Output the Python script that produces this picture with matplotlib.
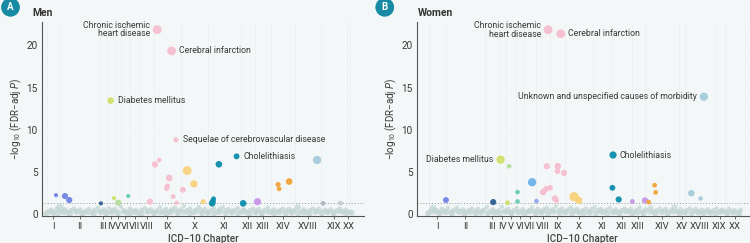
import matplotlib
matplotlib.use("Agg")
import matplotlib.pyplot as plt

plt.rcParams['font.family'] = ['Roboto', 'DejaVu Sans']
plt.rcParams['mathtext.fontset'] = 'custom'
plt.rcParams['mathtext.rm'] = 'Roboto'
plt.rcParams['mathtext.it'] = 'Roboto:italic'

# chapters and number of diagnoses per chapter (x axis = diagnosis index)
men_chapters = ['I', 'II', 'III', 'IV', 'V', 'VI', 'VII', 'VIII', 'IX', 'X', 'XI',
                'XII', 'XIII', 'XIV', 'XVIII', 'XIX', 'XX']
men_counts = [13, 40, 7, 8, 6, 9, 10, 14, 27, 27, 33, 14, 16, 24, 26, 26, 3]
men_start = 5
men_xmax = 322

women_chapters = ['I', 'II', 'III', 'IV', 'V', 'VI', 'VII', 'VIII', 'IX', 'X', 'XI',
                  'XII', 'XIII', 'XIV', 'XV', 'XVIII', 'XIX', 'XX']
women_counts = [17, 39, 14, 7, 10, 8, 12, 14, 15, 28, 19, 20, 13, 34, 6, 30, 10, 20]
women_start = 12
women_xmax = 332

# significant diagnoses: (chapter, index, -log10 p, relative size)
men_sig = [
    ('I', 14, 2.27, 1), ('I', 23, 2.16, 2.2), ('I', 27.3, 1.69, 2.2),
    ('III', 59, 1.3, 1), ('IV', 72, 1.92, 1), ('IV', 68.7, 13.45, 2.5),
    ('V', 76.3, 1.37, 2.2), ('VI', 86.3, 2.16, 1),
    ('IX', 108, 1.5, 2.2), ('IX', 113, 5.9, 2.2), ('IX', 117.3, 6.43, 1.2),
    ('IX', 115.3, 21.85, 4.5), ('IX', 129.7, 19.33, 4.5), ('IX', 127.3, 4.3, 2.6),
    ('IX', 124.7, 3.06, 1.5), ('IX', 125.5, 3.35, 1.5), ('IX', 131.3, 2.1, 1.3),
    ('IX', 134, 8.82, 1.5), ('IX', 134.7, 1.37, 1), ('IX', 141, 2.9, 2),
    ('X', 145.3, 5.18, 4.5), ('X', 152, 3.6, 3), ('X', 161.3, 1.5, 1.5),
    ('XI', 170.3, 1.3, 2.5), ('XI', 171, 1.55, 2), ('XI', 171.7, 1.84, 1.3),
    ('XI', 177, 5.92, 2.5), ('XI', 194.7, 6.86, 2), ('XI', 201.3, 1.3, 2.5),
    ('XIII', 215.7, 1.5, 3), ('XIV', 236.3, 3.53, 1.5), ('XIV', 237.3, 3.02, 1.3),
    ('XIV', 247.3, 3.88, 2.6), ('XVIII', 275.3, 6.43, 4), ('XIX', 281.3, 1.3, 1.3),
    ('XX', 298.7, 1.33, 1.3),
]

women_sig = [
    ('I', 29, 1.69, 2), ('III', 76.3, 1.45, 2.2), ('IV', 83.7, 6.47, 4),
    ('IV', 90.7, 1.37, 1.3), ('V', 92.3, 5.69, 1.2), ('VI', 100.7, 2.63, 1.2),
    ('VI', 100.7, 1.53, 1.2), ('VII', 115.3, 3.8, 4), ('VIII', 119.7, 1.57, 1.2),
    ('IX', 126.3, 2.63, 2.5), ('IX', 129.3, 3.0, 2), ('IX', 133.3, 3.14, 1.8),
    ('IX', 130, 5.69, 2.2), ('IX', 131.3, 21.84, 4.5), ('IX', 144, 21.37, 4.5),
    ('IX', 141, 5.69, 2.5), ('IX', 140.7, 5.1, 1.8), ('IX', 147.3, 4.9, 2.2),
    ('IX', 138, 1.88, 2.2), ('IX', 139.7, 1.65, 1.5),
    ('X', 157.3, 2.08, 5), ('X', 162, 1.65, 3),
    ('XI', 196.3, 7.02, 3), ('XI', 195.7, 3.14, 2), ('XI', 202, 1.76, 2.2),
    ('XIII', 215.7, 1.53, 1.3), ('XIII', 228.3, 1.65, 2.2),
    ('XIV', 232, 1.45, 1.3), ('XIV', 238, 3.45, 1.3), ('XIV', 239, 2.6, 1.3),
    ('XVIII', 274.7, 2.5, 2.5), ('XVIII', 284, 1.88, 1.2), ('XVIII', 287.3, 13.92, 4),
]

# labelled diagnoses: (text, index, value, side)
men_notes = [
    ('Chronic ischemic\nheart disease', 115.3, 21.85, 'left'),
    ('Cerebral infarction', 129.7, 19.33, 'right'),
    ('Diabetes mellitus', 68.7, 13.45, 'right'),
    ('Sequelae of cerebrovascular disease', 134, 8.82, 'right'),
    ('Cholelithiasis', 194.7, 6.86, 'right'),
]
women_notes = [
    ('Chronic ischemic\nheart disease', 131.3, 21.84, 'left'),
    ('Cerebral infarction', 144, 21.37, 'right'),
    ('Unknown and unspecified causes of morbidity', 287.3, 13.92, 'left'),
    ('Diabetes mellitus', 83.7, 6.47, 'left'),
    ('Cholelithiasis', 196.3, 7.02, 'right'),
]

# non-significant diagnoses: (index, -log10 p, relative size)
men_ns = [
    (6, 0.25, 2), (9, 0.5, 1.5), (12, 0.15, 2), (15, 0.6, 2), (18, 0.8, 3.5), (20, 0.35, 2),
    (23, 0.55, 1.5), (26, 0.2, 2), (29, 0.45, 1.5), (32, 0.7, 1), (35, 0.3, 2), (38, 0.55, 1.5),
    (41, 0.15, 2), (44, 0.4, 1.5), (47, 0.65, 1), (50, 0.25, 2), (53, 0.5, 1.5), (56, 0.8, 1),
    (59, 0.3, 2), (62, 0.55, 1.5), (65, 0.2, 2), (67, 0.75, 1), (70, 0.4, 2), (73, 0.6, 1.5),
    (76, 0.25, 2), (79, 0.9, 1), (82, 0.45, 1.5), (85, 0.2, 2), (88, 0.65, 1.5), (91, 0.35, 2),
    (94, 0.55, 1), (97, 0.15, 2), (100, 0.5, 1.5), (103, 0.75, 1), (106, 0.3, 2), (109, 0.55, 1.5),
    (112, 0.2, 2), (115, 0.45, 1.5), (118, 0.85, 1), (121, 0.35, 2), (124, 0.6, 1.5), (127, 0.2, 2),
    (130, 0.5, 2), (133, 0.75, 1.5), (136, 0.3, 2), (139, 0.55, 1.5), (142, 1.0, 1), (145, 0.4, 2),
    (148, 0.65, 1.5), (151, 0.25, 2), (154, 0.5, 1.5), (157, 0.8, 1.5), (160, 0.35, 2), (163, 0.6, 1.5),
    (166, 0.2, 2), (169, 0.45, 1.5), (172, 0.7, 1), (175, 0.3, 2), (178, 0.55, 2), (181, 0.85, 1),
    (184, 0.4, 2), (187, 0.6, 1.5), (190, 0.25, 2), (193, 0.5, 1.5), (196, 0.75, 1), (199, 0.3, 2),
    (202, 0.55, 1.5), (205, 0.2, 2), (208, 0.45, 1.5), (211, 0.7, 1), (214, 0.35, 2), (217, 0.6, 1.5),
    (220, 0.2, 2), (223, 0.5, 1.5), (226, 0.8, 1), (229, 0.3, 2), (232, 0.55, 1.5), (235, 0.25, 2),
    (238, 0.45, 1.5), (241, 0.7, 1), (244, 0.35, 2), (247, 0.6, 1.5), (250, 0.2, 2), (253, 0.5, 1.5),
    (256, 0.85, 2), (259, 0.3, 2), (262, 0.55, 1.5), (265, 0.25, 2), (268, 0.45, 1.5), (271, 0.7, 1),
    (274, 0.35, 2), (277, 0.6, 1.5), (280, 0.2, 2), (283, 0.5, 1.5), (286, 0.3, 2), (289, 0.55, 1.5),
    (292, 0.2, 2), (295, 0.45, 1.5), (298, 0.7, 1), (301, 0.3, 2), (304, 0.5, 1.5), (307, 0.25, 2),
    (4, 0.1, 2), (10, 0.3, 2), (16, 0.12, 2), (22, 0.25, 2), (28, 0.08, 2), (34, 0.35, 2),
    (40, 0.12, 2), (46, 0.28, 2), (52, 0.1, 2), (58, 0.32, 2), (64, 0.12, 2), (70, 0.2, 2),
    (76, 0.08, 2), (82, 0.3, 2), (88, 0.12, 2), (94, 0.25, 2), (100, 0.1, 2), (106, 0.35, 2),
    (112, 0.12, 2), (118, 0.22, 2), (124, 0.08, 2), (130, 0.3, 2), (136, 0.12, 2), (142, 0.25, 2),
    (148, 0.1, 2), (154, 0.32, 2), (160, 0.12, 2), (166, 0.2, 2), (172, 0.08, 2), (178, 0.3, 2),
    (184, 0.12, 2), (190, 0.25, 2), (196, 0.1, 2), (202, 0.35, 2), (208, 0.12, 2), (214, 0.22, 2),
    (220, 0.08, 2), (226, 0.3, 2), (232, 0.12, 2), (238, 0.25, 2), (244, 0.1, 2), (250, 0.32, 2),
    (256, 0.12, 2), (262, 0.2, 2), (268, 0.08, 2), (274, 0.3, 2), (280, 0.12, 2), (286, 0.25, 2),
    (292, 0.1, 2), (298, 0.35, 2), (304, 0.12, 2), (310, 0.2, 2),
]

women_ns = [
    (13, 0.3, 2), (16, 0.7, 3), (19, 0.45, 2), (22, 0.2, 2), (25, 0.6, 1.5), (28, 0.35, 2),
    (31, 0.75, 1), (34, 0.25, 2), (37, 0.5, 1.5), (40, 0.8, 1), (43, 0.3, 2), (46, 0.55, 1.5),
    (49, 0.2, 2), (52, 0.45, 1.5), (55, 0.7, 1), (58, 0.35, 2), (61, 0.6, 1.5), (64, 0.2, 2),
    (67, 0.5, 1.5), (70, 0.85, 1), (73, 0.3, 2), (76, 0.55, 1.5), (79, 0.25, 2), (82, 0.45, 1.5),
    (85, 0.9, 1), (88, 0.35, 2), (91, 0.6, 1.5), (94, 0.2, 2), (97, 0.5, 1.5), (100, 0.75, 1),
    (103, 0.3, 2), (106, 0.55, 1.5), (109, 0.2, 2), (112, 0.45, 1.5), (115, 0.8, 1), (118, 0.35, 2),
    (121, 0.6, 1.5), (124, 0.25, 2), (127, 0.5, 2), (130, 0.7, 1.5), (133, 0.3, 2), (136, 0.55, 1.5),
    (139, 0.95, 1), (142, 0.4, 2), (145, 0.65, 1.5), (148, 0.25, 2), (151, 0.5, 1.5), (154, 0.75, 1.5),
    (157, 0.35, 2), (160, 0.6, 1.5), (163, 0.2, 2), (166, 0.45, 1.5), (169, 0.7, 1), (172, 0.3, 2),
    (175, 0.55, 2), (178, 0.85, 1), (181, 0.4, 2), (184, 0.6, 1.5), (187, 0.25, 2), (190, 0.5, 1.5),
    (193, 0.75, 1), (196, 0.3, 2), (199, 0.55, 1.5), (202, 0.2, 2), (205, 0.45, 1.5), (208, 0.7, 1),
    (211, 0.35, 2), (214, 0.6, 1.5), (217, 0.2, 2), (220, 0.5, 1.5), (223, 0.8, 1), (226, 0.3, 2),
    (229, 0.55, 1.5), (234, 0.7, 2), (237, 0.25, 2), (240, 0.45, 1.5), (243, 0.7, 1), (246, 0.35, 2),
    (249, 0.6, 1.5), (252, 0.2, 2), (255, 0.5, 1.5), (258, 0.85, 2), (261, 0.3, 2), (264, 0.55, 1.5),
    (267, 0.25, 2), (270, 0.45, 1.5), (273, 0.7, 1), (276, 0.35, 2), (279, 0.6, 1.5), (282, 0.2, 2),
    (285, 0.5, 1.5), (288, 0.3, 2), (291, 0.55, 1.5), (294, 0.2, 2), (297, 0.45, 1.5), (300, 0.7, 1),
    (303, 0.3, 2), (306, 0.5, 1.5), (309, 0.25, 2), (312, 0.6, 1.5), (315, 0.3, 2), (318, 0.45, 1.5),
    (321, 0.2, 2), (324, 0.5, 1.5),
    (11, 0.1, 2), (17, 0.3, 2), (23, 0.12, 2), (29, 0.25, 2), (35, 0.08, 2), (41, 0.35, 2),
    (47, 0.12, 2), (53, 0.28, 2), (59, 0.1, 2), (65, 0.32, 2), (71, 0.12, 2), (77, 0.2, 2),
    (83, 0.08, 2), (89, 0.3, 2), (95, 0.12, 2), (101, 0.25, 2), (107, 0.1, 2), (113, 0.35, 2),
    (119, 0.12, 2), (125, 0.22, 2), (131, 0.08, 2), (137, 0.3, 2), (143, 0.12, 2), (149, 0.25, 2),
    (155, 0.1, 2), (161, 0.32, 2), (167, 0.12, 2), (173, 0.2, 2), (179, 0.08, 2), (185, 0.3, 2),
    (191, 0.12, 2), (197, 0.25, 2), (203, 0.1, 2), (209, 0.35, 2), (215, 0.12, 2), (221, 0.22, 2),
    (227, 0.08, 2), (233, 0.3, 2), (239, 0.12, 2), (245, 0.25, 2), (251, 0.1, 2), (257, 0.32, 2),
    (263, 0.12, 2), (269, 0.2, 2), (275, 0.08, 2), (281, 0.3, 2), (287, 0.12, 2), (293, 0.25, 2),
    (299, 0.1, 2), (305, 0.35, 2), (311, 0.12, 2), (317, 0.2, 2), (323, 0.1, 2),
]

palette = {
    'I': '#6f84e6', 'II': '#8a9be0', 'III': '#2f5e94', 'IV': '#cfe06a', 'V': '#b3dd9c',
    'VI': '#64cbb4', 'VII': '#6cb4ea', 'VIII': '#93a6ea', 'IX': '#f7bdd1', 'X': '#f8d27c',
    'XI': '#0b8dab', 'XII': '#0c8aa0', 'XIII': '#c795ea', 'XIV': '#f0a43a', 'XV': '#e8c2a0',
    'XVIII': '#a6cbdd', 'XIX': '#a9b8c2', 'XX': '#c4cccc',
}
bg = '#f4f7f7'
txt = '#3a3a3a'


def draw_panel(ax, chapters, counts, start, xmax, ns, sig, notes):
    ax.set_facecolor(bg)
    edges = [start]
    for c in counts:
        edges.append(edges[-1] + c)
    centers = [(a + b) / 2 for a, b in zip(edges[:-1], edges[1:])]
    for e in edges:
        ax.axvline(e, color='#dde2e2', lw=0.5, ls=(0, (1, 1.5)), zorder=0)
    ax.axhline(1.3, color='#9a9a9a', lw=0.7, ls=(0, (1, 2)), zorder=1)

    ax.scatter([p[0] for p in ns], [p[1] for p in ns], s=[9 * p[2] for p in ns],
               color='#c2d6d1', alpha=0.75, lw=0, zorder=2)
    ax.scatter([p[1] for p in sig], [p[2] for p in sig], s=[9 * p[3] for p in sig],
               color=[palette[p[0]] for p in sig], alpha=0.95, lw=0, zorder=3)

    for text, x, y, side in notes:
        if side == 'left':
            ax.annotate(text, (x, y), xytext=(-5, 0), textcoords='offset points',
                        ha='right', va='center', fontsize=6.3, color=txt,
                        linespacing=0.95, zorder=4)
        else:
            ax.annotate(text, (x, y), xytext=(5, 0), textcoords='offset points',
                        ha='left', va='center', fontsize=6.3, color=txt, zorder=4)

    ax.set_xlim(0, xmax)
    ax.set_ylim(-0.2, 22.8)
    ax.set_xticks(centers)
    ax.set_xticklabels(chapters)
    ax.set_yticks([0, 5, 10, 15, 20])
    ax.tick_params(axis='x', length=2.5, width=0.6, color='#555555', labelsize=6.8,
                   labelcolor=txt, pad=2)
    ax.tick_params(axis='y', length=0, labelsize=7.2, labelcolor=txt, pad=3)
    for s in ['top', 'right']:
        ax.spines[s].set_visible(False)
    for s in ['left', 'bottom']:
        ax.spines[s].set_color('#555555')
        ax.spines[s].set_linewidth(0.8)
    ax.set_xlabel('ICD\u221210 Chapter', fontsize=7.2, color='#444444',
                  fontweight='medium', labelpad=2)
    ax.set_ylabel(r'$-$log$_{10}$ (FDR$-$adj $P$)', fontsize=7, color=txt, labelpad=2)


fig = plt.figure(figsize=(7.5, 2.43), dpi=100)
fig.patch.set_facecolor(bg)

ax1 = fig.add_axes([0.056, 0.111, 0.429, 0.80])
ax2 = fig.add_axes([0.556, 0.111, 0.442, 0.80])

draw_panel(ax1, men_chapters, men_counts, men_start, men_xmax, men_ns, men_sig, men_notes)
draw_panel(ax2, women_chapters, women_counts, women_start, women_xmax, women_ns, women_sig, women_notes)

for x, letter, title, tx in [(0.014, 'A', 'Men', 0.043), (0.513, 'B', 'Women', 0.557)]:
    fig.text(x, 0.97, letter, ha='center', va='center', color='white', fontsize=7,
             fontweight='bold',
             bbox=dict(boxstyle='circle,pad=0.45', fc='#168ba3', ec='none'))
    fig.text(tx, 0.945, title, ha='left', va='center', color='#333333', fontsize=7.5,
             fontweight='bold')

fig.savefig('out.png', dpi=100, facecolor=bg)
